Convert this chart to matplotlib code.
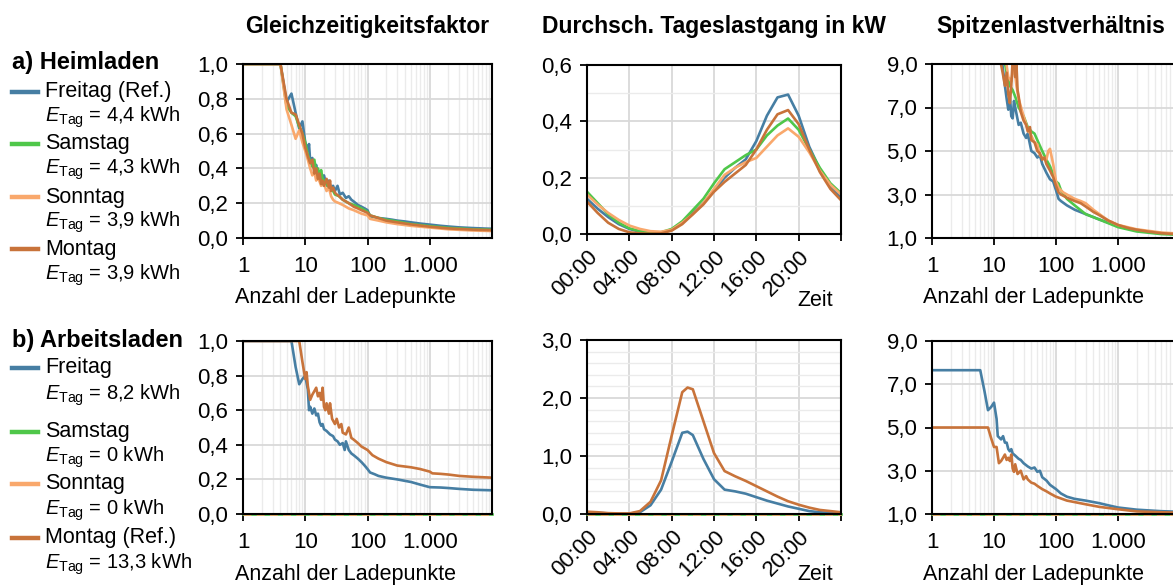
import matplotlib
matplotlib.use("Agg")
import matplotlib.pyplot as plt
from matplotlib.lines import Line2D
from matplotlib.ticker import FuncFormatter, MultipleLocator, LogLocator, NullFormatter

plt.rcParams['font.family'] = ['Liberation Sans', 'DejaVu Sans']
plt.rcParams['mathtext.fontset'] = 'custom'
plt.rcParams['mathtext.rm'] = 'Liberation Sans'
plt.rcParams['mathtext.it'] = 'Liberation Sans:italic'

# ---------------- data ----------------
day_names_a = ["Freitag (Ref.)", "Samstag", "Sonntag", "Montag"]
energy_a = ["4,4", "4,3", "3,9", "3,9"]
day_names_b = ["Freitag", "Samstag", "Sonntag", "Montag (Ref.)"]
energy_b = ["8,2", "0", "0", "13,3"]
colors = ["#467ea3", "#4fc74a", "#f9a86c", "#c8733a"]

# a) Heimladen - Gleichzeitigkeitsfaktor
gzf_a_fr_x = [1, 4, 5, 6, 7, 8, 9, 10, 11, 11.5, 12, 13, 14, 15, 16, 17, 18, 20, 22, 24,
              26, 28, 30, 33, 36, 40, 45, 50, 55, 60, 70, 80, 90, 100, 110, 130, 150, 200, 250, 300,
              400, 500, 700, 1000, 1500, 2000, 3000, 5000, 8000, 10000]
gzf_a_fr_y = [1.0, 1.0, 0.78, 0.83, 0.72, 0.63, 0.67, 0.55, 0.50, 0.54, 0.44, 0.46, 0.40, 0.42, 0.36, 0.38, 0.33, 0.36, 0.30, 0.33,
              0.28, 0.30, 0.27, 0.30, 0.25, 0.26, 0.23, 0.24, 0.22, 0.21, 0.19, 0.18, 0.17, 0.16, 0.125, 0.12, 0.115, 0.11, 0.105, 0.10,
              0.095, 0.09, 0.083, 0.077, 0.07, 0.066, 0.061, 0.057, 0.054, 0.053]
gzf_a_sa_x = [1, 4, 5, 6, 7, 8, 9, 10, 11, 12, 13, 14, 15, 16, 17, 18, 19, 20, 22, 25,
              28, 30, 35, 40, 50, 60, 70, 80, 90, 100, 110, 150, 200, 300, 500, 1000, 2000, 5000, 10000]
gzf_a_sa_y = [1.0, 1.0, 0.76, 0.72, 0.70, 0.64, 0.60, 0.55, 0.48, 0.44, 0.41, 0.45, 0.38, 0.40, 0.36, 0.39, 0.34, 0.33, 0.31, 0.28,
              0.27, 0.25, 0.24, 0.22, 0.20, 0.19, 0.18, 0.17, 0.16, 0.15, 0.13, 0.115, 0.105, 0.095, 0.08, 0.068, 0.058, 0.05, 0.047]
gzf_a_so_x = [1, 4, 5, 6, 7, 8, 9, 10, 11, 12, 13, 14, 15, 16, 18, 20, 22, 24, 26, 28,
              30, 35, 40, 50, 60, 80, 100, 110, 150, 200, 300, 500, 1000, 2000, 5000, 10000]
gzf_a_so_y = [1.0, 1.0, 0.74, 0.65, 0.57, 0.62, 0.55, 0.50, 0.45, 0.40, 0.36, 0.38, 0.33, 0.35, 0.30, 0.31, 0.27, 0.29, 0.24, 0.22,
              0.21, 0.20, 0.19, 0.17, 0.16, 0.14, 0.13, 0.11, 0.10, 0.09, 0.08, 0.07, 0.06, 0.05, 0.043, 0.04]
gzf_a_mo_x = [1, 4, 5, 6, 7, 8, 9, 10, 11, 12, 13, 14, 15, 16, 17, 18, 19, 20, 22, 24,
              25, 26, 28, 30, 32, 35, 40, 45, 50, 60, 70, 80, 100, 110, 150, 200, 300, 500, 1000, 2000,
              5000, 10000]
gzf_a_mo_y = [1.0, 1.0, 0.80, 0.72, 0.71, 0.65, 0.60, 0.52, 0.47, 0.43, 0.45, 0.37, 0.40, 0.34, 0.37, 0.31, 0.33, 0.30, 0.34, 0.29,
              0.33, 0.27, 0.29, 0.26, 0.25, 0.24, 0.22, 0.21, 0.20, 0.18, 0.17, 0.16, 0.145, 0.13, 0.115, 0.10, 0.09, 0.078, 0.065, 0.055,
              0.048, 0.045]

# a) Heimladen - Tageslastgang (kW), hourly
hours_a = list(range(25))
last_a_fr = [0.125, 0.09, 0.06, 0.035, 0.018, 0.008, 0.004, 0.004, 0.015, 0.04, 0.075, 0.11, 0.155,
             0.20, 0.235, 0.265, 0.33, 0.42, 0.485, 0.495, 0.42, 0.31, 0.23, 0.17, 0.13]
last_a_sa = [0.15, 0.11, 0.07, 0.04, 0.02, 0.01, 0.006, 0.006, 0.018, 0.045, 0.085, 0.125, 0.18,
             0.23, 0.255, 0.28, 0.30, 0.35, 0.385, 0.41, 0.37, 0.30, 0.235, 0.18, 0.145]
last_a_so = [0.14, 0.105, 0.075, 0.05, 0.03, 0.018, 0.01, 0.008, 0.015, 0.04, 0.07, 0.11, 0.16,
             0.21, 0.235, 0.255, 0.27, 0.31, 0.35, 0.375, 0.345, 0.29, 0.225, 0.175, 0.14]
last_a_mo = [0.115, 0.075, 0.04, 0.018, 0.006, 0.002, 0.001, 0.002, 0.012, 0.035, 0.07, 0.105, 0.15,
             0.185, 0.215, 0.245, 0.30, 0.37, 0.425, 0.44, 0.39, 0.30, 0.22, 0.16, 0.12]

# a) Heimladen - Spitzenlastverhaeltnis
slv_a_fr_x = [13, 15, 16, 17, 18, 19, 20, 21, 22, 25, 27, 30, 33, 35, 40, 45, 50, 55, 60, 70,
              80, 90, 100, 110, 120, 150, 200, 300, 500, 1000, 2000, 5000, 10000]
slv_a_fr_y = [9.5, 8.0, 7.4, 6.9, 7.6, 6.6, 6.5, 7.3, 7.0, 6.2, 6.3, 5.8, 5.6, 5.8, 5.0, 4.9, 4.7, 4.8, 4.4, 4.0,
              3.7, 3.6, 3.2, 2.8, 2.7, 2.5, 2.3, 2.1, 1.85, 1.55, 1.35, 1.22, 1.18]
slv_a_sa_x = [14, 16, 18, 20, 22, 25, 30, 35, 40, 45, 50, 60, 70, 80, 100, 110, 120, 150, 200, 300,
              500, 1000, 2000, 5000, 10000]
slv_a_sa_y = [9.5, 8.6, 8.0, 7.8, 7.5, 7.0, 6.6, 6.1, 5.9, 5.8, 5.5, 5.0, 4.6, 4.3, 3.6, 3.5, 3.2, 2.8, 2.5, 2.1,
              1.85, 1.5, 1.3, 1.18, 1.14]
slv_a_so_x = [15, 17, 19, 21, 23, 25, 28, 30, 35, 40, 45, 50, 55, 60, 70, 75, 80, 90, 100, 110,
              130, 150, 200, 250, 300, 400, 500, 700, 1000, 2000, 5000, 10000]
slv_a_so_y = [9.5, 8.4, 8.2, 9.0, 8.0, 7.4, 6.9, 6.6, 6.0, 5.7, 5.4, 5.3, 4.8, 4.7, 4.6, 5.0, 5.1, 4.4, 3.6, 3.3,
              3.1, 3.0, 2.8, 2.7, 2.6, 2.3, 2.1, 1.8, 1.6, 1.4, 1.25, 1.2]
slv_a_mo_x = [12, 14, 15, 16, 17, 18, 19, 20, 21, 22, 23, 24, 25, 27, 30, 33, 35, 38, 40, 45,
              50, 55, 60, 65, 70, 80, 90, 100, 110, 120, 150, 200, 250, 300, 400, 500, 700, 1000, 1500, 2000,
              3000, 5000, 10000]
slv_a_mo_y = [9.5, 8.5, 8.0, 8.6, 7.6, 7.2, 8.0, 9.2, 9.3, 8.4, 9.0, 7.8, 7.5, 6.8, 6.4, 6.2, 5.9, 6.1, 5.5, 5.4,
              5.0, 4.9, 4.6, 4.7, 4.4, 4.1, 3.8, 3.4, 3.1, 3.0, 2.85, 2.7, 2.6, 2.45, 2.2, 2.05, 1.8, 1.6, 1.45, 1.38,
              1.3, 1.22, 1.17]

# b) Arbeitsladen - Gleichzeitigkeitsfaktor
gzf_b_fr_x = [1, 6, 7, 8, 9, 10, 11, 11.5, 12, 13, 14, 15, 16, 17, 18, 19, 20, 22, 25, 28,
              30, 33, 36, 40, 43, 45, 50, 55, 60, 70, 80, 90, 100, 110, 130, 150, 200, 300, 500, 700,
              1000, 1500, 2000, 3000, 5000, 10000]
gzf_b_fr_y = [1.0, 1.0, 0.85, 0.75, 0.78, 0.80, 0.72, 0.60, 0.62, 0.58, 0.61, 0.57, 0.58, 0.53, 0.51, 0.52, 0.49, 0.48, 0.46, 0.45,
              0.43, 0.42, 0.40, 0.41, 0.37, 0.42, 0.37, 0.35, 0.34, 0.32, 0.30, 0.28, 0.26, 0.24, 0.23, 0.22, 0.21, 0.20, 0.185, 0.17,
              0.155, 0.153, 0.15, 0.145, 0.14, 0.137]
gzf_b_mo_x = [1, 8, 9, 10, 10.5, 11, 12, 13, 14, 15, 16, 17, 18, 19, 20, 21, 22, 24, 25, 27,
              30, 32, 35, 38, 40, 45, 50, 55, 60, 70, 80, 100, 120, 150, 200, 300, 500, 700, 1000, 1100,
              1500, 2000, 3000, 5000, 10000]
gzf_b_mo_y = [1.0, 1.0, 0.88, 0.78, 0.82, 0.74, 0.66, 0.69, 0.71, 0.73, 0.68, 0.70, 0.66, 0.73, 0.62, 0.60, 0.64, 0.58, 0.64, 0.55,
              0.52, 0.55, 0.50, 0.52, 0.47, 0.46, 0.50, 0.44, 0.43, 0.41, 0.39, 0.37, 0.34, 0.32, 0.30, 0.28, 0.27, 0.26, 0.245, 0.235,
              0.232, 0.228, 0.22, 0.215, 0.21]
gzf_b_zero_x = [1, 10000]
gzf_b_zero_y = [0.0, 0.0]

# b) Arbeitsladen - Tageslastgang (kW)
hours_b = [0, 1, 2, 3, 4, 5, 6, 7, 8, 9, 9.5, 10, 11, 12, 13, 14, 15, 16, 17, 18, 19, 20, 21, 22, 23, 24]
last_b_fr = [0.03, 0.02, 0.01, 0.005, 0.005, 0.03, 0.15, 0.42, 0.9, 1.40, 1.42, 1.36, 0.95, 0.6, 0.42,
             0.39, 0.35, 0.29, 0.23, 0.18, 0.13, 0.09, 0.05, 0.03, 0.02, 0.02]
last_b_mo = [0.04, 0.03, 0.015, 0.01, 0.01, 0.05, 0.21, 0.58, 1.35, 2.1, 2.18, 2.15, 1.6, 1.05, 0.74,
             0.65, 0.57, 0.48, 0.39, 0.30, 0.22, 0.16, 0.11, 0.07, 0.05, 0.03]
last_b_zero_x = [0, 24]
last_b_zero_y = [0.0, 0.0]

# b) Arbeitsladen - Spitzenlastverhaeltnis
slv_b_fr_x = [1, 6, 7, 8, 9, 10, 11, 11.5, 12, 13, 14, 15, 16, 17, 18, 19, 20, 22, 25, 27,
              30, 35, 40, 45, 50, 55, 60, 70, 80, 100, 120, 150, 200, 300, 500, 700, 1000, 2000, 5000, 10000]
slv_b_fr_y = [7.65, 7.65, 6.7, 5.8, 5.95, 6.15, 5.4, 4.6, 4.55, 4.45, 4.6, 4.3, 4.3, 4.0, 3.9, 4.0, 3.8, 3.7, 3.55, 3.5,
              3.35, 3.2, 3.1, 3.15, 2.95, 3.0, 2.7, 2.55, 2.35, 2.15, 1.95, 1.8, 1.7, 1.62, 1.5, 1.4, 1.3, 1.2, 1.13, 1.1]
slv_b_mo_x = [1, 8, 9, 10, 11, 12, 13, 14, 15, 16, 17, 18, 19, 20, 21, 22, 24, 25, 27, 30,
              33, 35, 40, 45, 50, 60, 70, 80, 100, 150, 200, 300, 500, 1000, 2000, 5000, 10000]
slv_b_mo_y = [5.0, 5.0, 4.5, 4.1, 4.1, 3.35, 3.45, 3.6, 3.75, 3.5, 3.6, 3.45, 3.75, 3.1, 2.95, 3.3, 2.85, 2.9, 3.0, 2.6,
              2.75, 2.6, 2.45, 2.4, 2.3, 2.15, 2.05, 1.95, 1.8, 1.62, 1.55, 1.45, 1.33, 1.22, 1.12, 1.08, 1.06]
slv_b_one_x = [1, 10000]
slv_b_one_y = [1.0, 1.0]

col_titles = ["Gleichzeitigkeitsfaktor", "Durchsch. Tageslastgang in kW", "Spitzenlastverhältnis"]
time_labels = ["00:00", "04:00", "08:00", "12:00", "16:00", "20:00"]
log_ticks = [1, 10, 100, 1000]
log_labels = ["1", "10", "100", "1.000"]

# ---------------- figure ----------------
W, H = 1173, 585
fig = plt.figure(figsize=(W / 100, H / 100), dpi=100)


def box(x0, y0, x1, y1):
    # pixel box (top-left origin) -> figure fraction
    return [x0 / W, 1 - y1 / H, (x1 - x0) / W, (y1 - y0) / H]


comma = FuncFormatter(lambda v, p: ("%.1f" % v).replace(".", ","))
GRID = "#d9d9d9"
GRID_MINOR = "#ebebeb"
LW = 1.9
TICK_FS = 16


def style(ax):
    for s in ax.spines.values():
        s.set_linewidth(1.5)
        s.set_color("black")
    ax.tick_params(which="major", direction="out", length=5, width=1.3, labelsize=TICK_FS, pad=5.5)
    ax.tick_params(which="minor", length=0)
    ax.set_axisbelow(True)


def log_panel(ax, ymin, ymax, ystep, label_top):
    ax.set_xscale("log")
    ax.set_xlim(1, 10000)
    ax.set_ylim(ymin, ymax)
    ax.set_xticks(log_ticks)
    ax.set_xticklabels(log_labels)
    ax.xaxis.set_minor_locator(LogLocator(base=10, subs=range(2, 10), numticks=20))
    ax.xaxis.set_minor_formatter(NullFormatter())
    ax.yaxis.set_major_locator(MultipleLocator(ystep))
    ax.yaxis.set_major_formatter(comma)
    ax.grid(True, which="major", color=GRID, lw=1.3)
    ax.grid(True, which="minor", axis="x", color=GRID_MINOR, lw=1.0)
    style(ax)
    ax.tick_params(axis="x", which="major", pad=8)
    ax.set_xlabel("Anzahl der Ladepunkte", fontsize=15.5)
    ax.xaxis.set_label_coords(0.41, label_top)


def time_panel(ax, ymax, ystep, yminor, zeit_y):
    ax.set_xlim(0, 24)
    ax.set_ylim(0, ymax)
    ax.set_xticks([0, 4, 8, 12, 16, 20, 24])
    ax.set_xticklabels(time_labels + [""], rotation=45, ha="right", va="top",
                       rotation_mode="anchor")
    ax.yaxis.set_major_locator(MultipleLocator(ystep))
    ax.yaxis.set_minor_locator(MultipleLocator(yminor))
    ax.yaxis.set_major_formatter(comma)
    ax.grid(True, which="major", color=GRID, lw=1.3)
    ax.grid(True, which="minor", axis="y", color=GRID_MINOR, lw=1.0)
    style(ax)
    ax.tick_params(axis="x", which="major", pad=4)
    ax.text(0.97, zeit_y, "Zeit", transform=ax.transAxes, ha="right", va="top", fontsize=15.5)


# row a
ax_a1 = fig.add_axes(box(243, 64, 492, 238))
ax_a2 = fig.add_axes(box(587, 65, 841, 234))
ax_a3 = fig.add_axes(box(932, 64, 1180, 238))
# row b
ax_b1 = fig.add_axes(box(243, 341, 492, 514))
ax_b2 = fig.add_axes(box(587, 340, 841, 514))
ax_b3 = fig.add_axes(box(932, 341, 1180, 514))

for xs, ys, c in zip([gzf_a_fr_x, gzf_a_sa_x, gzf_a_so_x, gzf_a_mo_x],
                     [gzf_a_fr_y, gzf_a_sa_y, gzf_a_so_y, gzf_a_mo_y], colors):
    ax_a1.plot(xs, ys, color=c, lw=LW)
log_panel(ax_a1, 0, 1.0, 0.2, -0.28)

for ys, c in zip([last_a_fr, last_a_sa, last_a_so, last_a_mo], colors):
    ax_a2.plot(hours_a, ys, color=c, lw=LW)
time_panel(ax_a2, 0.6, 0.2, 0.1, -0.33)

for xs, ys, c in zip([slv_a_fr_x, slv_a_sa_x, slv_a_so_x, slv_a_mo_x],
                     [slv_a_fr_y, slv_a_sa_y, slv_a_so_y, slv_a_mo_y], colors):
    ax_a3.plot(xs, ys, color=c, lw=LW)
log_panel(ax_a3, 1.0, 9.0, 2.0, -0.28)
ax_a3.set_yticks([1, 3, 5, 7, 9])

ax_b1.plot(gzf_b_fr_x, gzf_b_fr_y, color=colors[0], lw=LW)
ax_b1.plot(gzf_b_zero_x, gzf_b_zero_y, color=colors[1], lw=LW, clip_on=False)
ax_b1.plot(gzf_b_zero_x, gzf_b_zero_y, color=colors[2], lw=LW, ls=(0, (3, 2)), clip_on=False)
ax_b1.plot(gzf_b_mo_x, gzf_b_mo_y, color=colors[3], lw=LW)
log_panel(ax_b1, 0, 1.0, 0.2, -0.29)

ax_b2.plot(hours_b, last_b_fr, color=colors[0], lw=LW)
ax_b2.plot(last_b_zero_x, last_b_zero_y, color=colors[1], lw=LW, clip_on=False)
ax_b2.plot(last_b_zero_x, last_b_zero_y, color=colors[2], lw=LW, ls=(0, (3, 2)), clip_on=False)
ax_b2.plot(hours_b, last_b_mo, color=colors[3], lw=LW)
time_panel(ax_b2, 3.0, 1.0, 0.2, -0.29)

ax_b3.plot(slv_b_fr_x, slv_b_fr_y, color=colors[0], lw=LW)
ax_b3.plot(slv_b_one_x, slv_b_one_y, color=colors[1], lw=LW, clip_on=False)
ax_b3.plot(slv_b_one_x, slv_b_one_y, color=colors[2], lw=LW, ls=(0, (3, 2)), clip_on=False)
ax_b3.plot(slv_b_mo_x, slv_b_mo_y, color=colors[3], lw=LW)
log_panel(ax_b3, 1.0, 9.0, 2.0, -0.29)
ax_b3.set_yticks([1, 3, 5, 7, 9])

# column titles
for title, xc in zip(col_titles, [367, 714, 1051]):
    fig.text(xc / W, 1 - 27 / H, title, ha="center", va="center", fontsize=16.5, fontweight="bold")


# left side legends
def legend_block(header, y_header, names, energies, y_lines, y_energy):
    fig.text(12 / W, 1 - y_header / H, header, ha="left", va="center", fontsize=17, fontweight="bold")
    for name, en, yl, ye, c in zip(names, energies, y_lines, y_energy, colors):
        fig.add_artist(Line2D([12 / W, 38 / W], [1 - yl / H, 1 - yl / H], color=c, lw=3.2))
        fig.text(45 / W, 1 - yl / H, name, ha="left", va="center", fontsize=15.5)
        fig.text(45 / W, 1 - ye / H, r"$E_{\mathrm{Tag}}$ = " + en + " kWh", ha="left", va="center",
                 fontsize=14.5)


legend_block("a) Heimladen", 63, day_names_a, energy_a, [92, 144, 197, 249], [117, 169, 222, 275])
legend_block("b) Arbeitsladen", 341, day_names_b, energy_b, [368, 432, 484, 538], [395, 457, 510, 564])

fig.savefig("out.png", dpi=100)
